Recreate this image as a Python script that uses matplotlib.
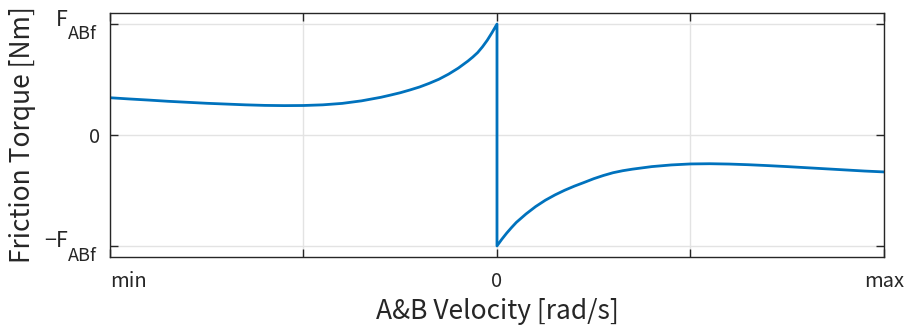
import matplotlib
matplotlib.use('Agg')
import matplotlib.pyplot as plt
import matplotlib.transforms as mtransforms

plt.rcParams['font.family'] = ['Noto Sans CJK JP', 'DejaVu Sans']
plt.rcParams['axes.unicode_minus'] = True

# friction curve, negative velocity branch (normalised velocity, torque / F_ABf)
vel_neg = [-1.0, -0.95, -0.9, -0.85, -0.8, -0.75, -0.7, -0.65, -0.6, -0.55,
           -0.5, -0.45, -0.4, -0.35, -0.3, -0.275, -0.25, -0.225, -0.2, -0.175,
           -0.15, -0.125, -0.1, -0.075, -0.0625, -0.05, -0.0375, -0.025, -0.0125, 0.0]
trq_neg = [0.336, 0.325, 0.315, 0.304, 0.295, 0.286, 0.279, 0.272, 0.267, 0.265,
           0.266, 0.272, 0.285, 0.308, 0.340, 0.360, 0.381, 0.406, 0.433, 0.466,
           0.503, 0.549, 0.603, 0.667, 0.703, 0.743, 0.795, 0.855, 0.925, 1.0]

# positive velocity branch
vel_pos = [0.0, 0.0125, 0.025, 0.0375, 0.05, 0.075, 0.1, 0.125, 0.15, 0.175, 0.2, 0.225,
           0.25, 0.275, 0.3, 0.325, 0.35, 0.4, 0.45, 0.5, 0.55, 0.6,
           0.65, 0.7, 0.75, 0.8, 0.85, 0.9, 0.95, 1.0]
trq_pos = [-1.0, -0.940, -0.885, -0.835, -0.788, -0.712, -0.645, -0.588, -0.540, -0.498,
           -0.461, -0.428, -0.394, -0.365, -0.340, -0.322, -0.308, -0.285, -0.270, -0.261,
           -0.259, -0.262, -0.268, -0.276, -0.285, -0.295, -0.305, -0.315, -0.325, -0.333]

xtick_pos = [-1.0, -0.5, 0.0, 0.5, 1.0]
xtick_lbl = ['min', '', '0', '', 'max']
ytick_pos = [-1.0, 0.0, 1.0]
ytick_lbl = ['', '0', '']
# F_ABf labels drawn as main letter + subscript
flabel_main = ['\u2212F', 'F']
flabel_sub = ['ABf', 'ABf']
flabel_y = [-1.0, 1.0]

fg = '#262626'

fig = plt.figure(figsize=(9.05, 3.27), dpi=100)
ax = fig.add_axes([0.1215, 0.2141, 0.9768 - 0.1215, 0.9602 - 0.2141])

ax.plot(vel_neg + vel_pos, trq_neg + trq_pos, color='#0072BD', linewidth=2.0,
        solid_joinstyle='round')

ax.set_xlim(-1, 1)
ax.set_ylim(-1.1, 1.1)
ax.set_xticks(xtick_pos)
ax.set_xticklabels(xtick_lbl)
ax.set_yticks(ytick_pos)
ax.set_yticklabels(ytick_lbl)
ax.get_xticklabels()[0].set_horizontalalignment('left')

ax.grid(True, color='#e3e3e3', linewidth=1.0)
ax.set_axisbelow(True)
ax.tick_params(direction='in', length=6, width=1.0, color=fg,
               top=True, right=True, labelsize=14.5, labelcolor=fg)
ax.tick_params(axis='x', pad=10)
ax.tick_params(axis='y', pad=7)
for s in ax.spines.values():
    s.set_color(fg)
    s.set_linewidth(1.0)

trans = mtransforms.blended_transform_factory(ax.transAxes, ax.transData)
for main, sub, yv in zip(flabel_main, flabel_sub, flabel_y):
    ax.annotate(main, xy=(0, yv), xycoords=trans, xytext=(-42, 4.5),
                textcoords='offset pixels', ha='right', va='center',
                fontsize=15.5, color=fg, annotation_clip=False)
    ax.annotate(sub, xy=(0, yv), xycoords=trans, xytext=(-42, -10),
                textcoords='offset pixels', ha='left', va='center',
                fontsize=13, color=fg, annotation_clip=False)

ax.set_xlabel('A&B Velocity [rad/s]', fontsize=19, color=fg, va='center')
ax.xaxis.set_label_coords(0.5, -0.225)
ax.set_ylabel('Friction Torque [Nm]', fontsize=19, color=fg, va='center')
ax.yaxis.set_label_coords(-0.113, 0.5)

fig.savefig('out.png', dpi=100)
